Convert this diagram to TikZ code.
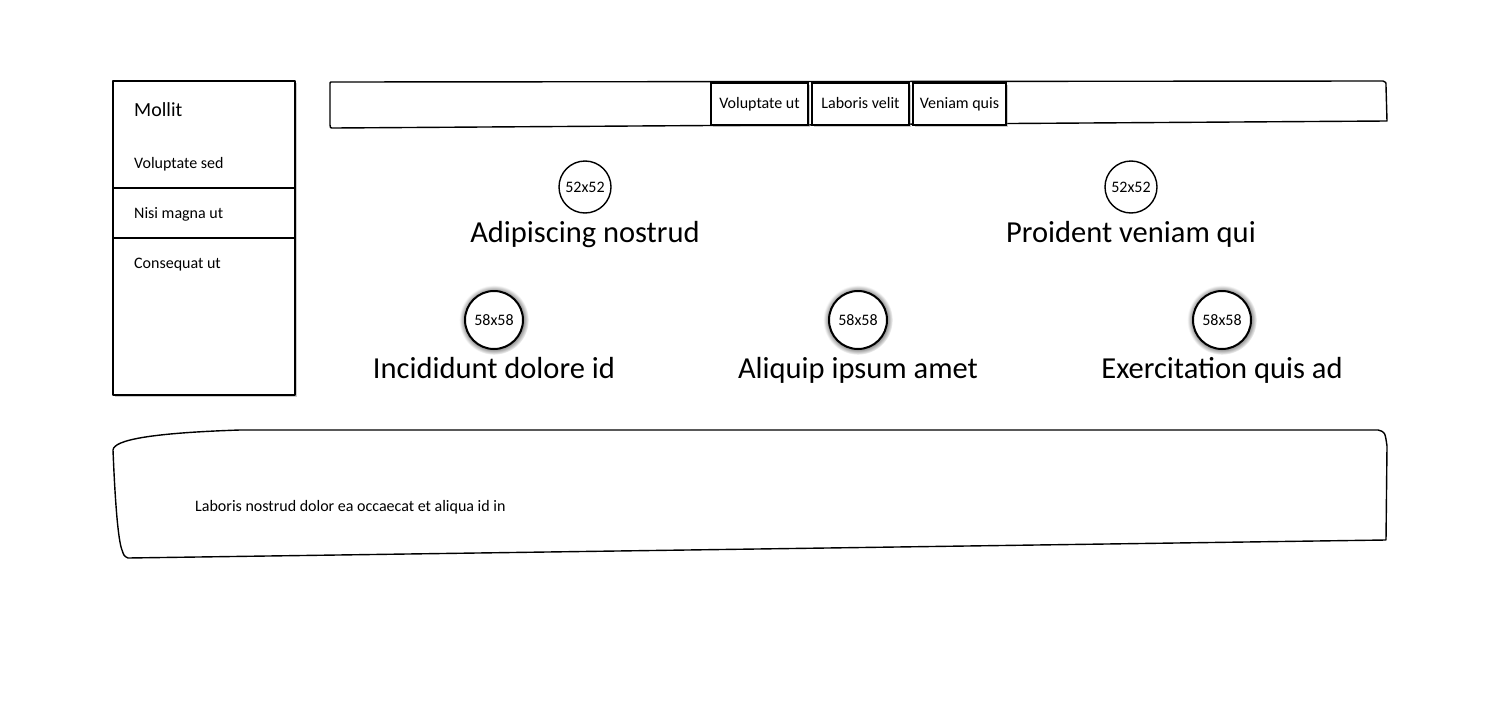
\documentclass[tikz,border=0pt]{standalone}
\usepackage{fontspec}
\setmainfont{Carlito}
\usetikzlibrary{positioning,shadows}
\tikzstyle{sketchline} = [draw=black, line width=1.4pt, line join=round]
\tikzstyle{menuitem} = [anchor=base west, inner sep=0pt, font=\fontsize{16}{18}\selectfont]
\tikzstyle{tabbtn} = [rectangle, draw=black, line width=2pt, fill=white, minimum width=97pt, minimum height=42pt, text height=11pt, text depth=3pt, inner xsep=6pt, font=\fontsize{16}{18}\selectfont, drop shadow={shadow xshift=1.5pt, shadow yshift=-1.5pt, opacity=0.4}]
\tikzstyle{avatar} = [circle, draw=black, line width=1.4pt, fill=white, minimum size=52pt, inner sep=0pt, font=\fontsize{16}{18}\selectfont]
\tikzstyle{avatarbig} = [circle, draw=black, line width=2pt, fill=white, minimum size=58pt, inner sep=0pt, font=\fontsize{16}{18}\selectfont, circular glow={shadow scale=1.2, opacity=0.8}]
\tikzstyle{caption} = [inner sep=0pt, font=\fontsize{30.5}{34}\selectfont]
\begin{document}
\begin{tikzpicture}[x=1pt, y=-1pt]
	\useasboundingbox (0,0) rectangle (1500,720);
	
	% side menu
	\node [rectangle, sketchline, line width=1.8pt, fill=white, minimum width=182pt, minimum height=314pt, drop shadow={shadow xshift=1.5pt, shadow yshift=-1.5pt, opacity=0.4}] (sidemenu) at (204,238) {};
	\draw [sketchline] (sidemenu.west |- 0,188) -- (sidemenu.east |- 0,188);
	\draw [sketchline] (sidemenu.west |- 0,238) -- (sidemenu.east |- 0,238);
	\node [menuitem, font=\fontsize{20}{22}\selectfont] (mollit) at (134,116) {Mollit};
	\node [menuitem] (voluptatesed) at (134,168) {Voluptate sed};
	\node [menuitem] (nisimagna) at (134,218) {Nisi magna ut};
	\node [menuitem] (consequat) at (134,268) {Consequat ut};
	
	% top bar
	\draw [sketchline] (331,82) -- (1383,81) .. controls (1386,82) .. (1386,86) -- (1387,121) -- (334,128) .. controls (330,128) .. (330,125) -- (330,86) .. controls (330,82) .. (331,82) -- cycle;
	\node [tabbtn] (tabone) at (759.5,104) {Voluptate ut};
	\node [tabbtn, right=2pt of tabone] (tabtwo) {Laboris velit};
	\node [tabbtn, right=2pt of tabtwo, minimum width=93pt] (tabthree) {Veniam quis};
	
	% first row
	\node [avatar] (avone) at (585,187) {52x52};
	\node [avatar] (avtwo) at (1131,187) {52x52};
	\node [caption, below=7pt of avone] (capone) {Adipiscing nostrud};
	\node [caption, below=7pt of avtwo] (captwo) {Proident veniam qui};
	
	% second row
	\node [avatarbig] (avthree) at (494,320) {58x58};
	\node [avatarbig] (avfour) at (858,320) {58x58};
	\node [avatarbig] (avfive) at (1222,320) {58x58};
	\node [caption, below=7pt of avthree] (capthree) {Incididunt dolore id};
	\node [caption, below=7pt of avfour] (capfour) {Aliquip ipsum amet};
	\node [caption, below=7pt of avfive] (capfive) {Exercitation quis ad};
	
	% footer panel
	\draw [sketchline] (128,558) -- (1386,540) -- (1387,446) .. controls (1385,432) .. (1378,430) -- (240,430) .. controls (150,433) and (114,440) .. (113,450) .. controls (115,500) and (118,540) .. (122,550) .. controls (124,556) .. (128,558) -- cycle;
	\node [menuitem] (footnote) at (195,511) {Laboris nostrud dolor ea occaecat et aliqua id in};
	
\end{tikzpicture}
\end{document}
